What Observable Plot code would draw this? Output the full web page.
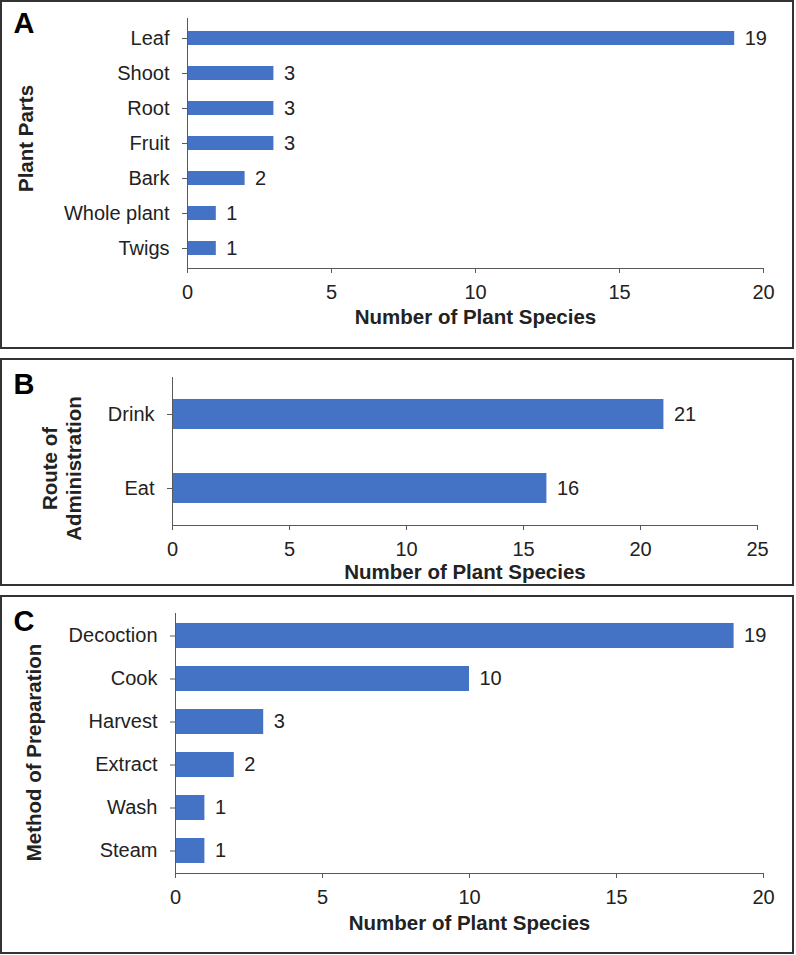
<!DOCTYPE html>
<html>
<head>
<meta charset="utf-8">
<script src="https://cdn.jsdelivr.net/npm/d3@7"></script>
<script src="https://cdn.jsdelivr.net/npm/@observablehq/plot@0.6"></script>
<style>
  html, body { margin: 0; padding: 0; background: #fff; }
  #page { position: relative; width: 796px; height: 955px; overflow: hidden; font-family: "Liberation Sans", Arial, sans-serif; }
  .panel { position: absolute; left: 0; width: 794px; box-sizing: border-box; border: 2px solid #333; z-index: 2; pointer-events: none; }
  .chart { position: absolute; left: 0; z-index: 1; }
</style>
</head>
<body>
<div id="page"></div>
<script>
// ---- data ----
const partsCats = ["Leaf", "Shoot", "Root", "Fruit", "Bark", "Whole plant", "Twigs"];
const partsVals = [19, 3, 3, 3, 2, 1, 1];
const routeCats = ["Drink", "Eat"];
const routeVals = [21, 16];
const prepCats = ["Decoction", "Cook", "Harvest", "Extract", "Wash", "Steam"];
const prepVals = [19, 10, 3, 2, 1, 1];
const ticksA = [0, 5, 10, 15, 20];
const ticksB = [0, 5, 10, 15, 20, 25];
const ticksC = [0, 5, 10, 15, 20];
const xTitle = "Number of Plant Species";

const page = document.getElementById("page");
const BLUE = "#4472C4";
const INK = "#222";
const AXIS = "#595959";
const FS = 20;
const TFS = 20.5;

function makePanel(cfg) {
  const data = cfg.cats.map((c, i) => ({cat: c, value: cfg.vals[i]}));
  const plot = Plot.plot({
    width: 796,
    height: cfg.height,
    marginLeft: cfg.ml,
    marginRight: cfg.mr,
    marginTop: cfg.mt,
    marginBottom: cfg.mb,
    style: {fontFamily: '"Liberation Sans", Arial, sans-serif', fontSize: FS + "px", color: INK, background: "transparent", overflow: "visible"},
    x: {domain: [cfg.ticks[0], cfg.ticks[cfg.ticks.length - 1]]},
    y: {domain: cfg.cats, paddingInner: cfg.pad, paddingOuter: cfg.pad / 2},
    marks: [
      Plot.barX(data, {x: "value", y: "cat", fill: BLUE}),
      Plot.text(data, {x: "value", y: "cat", text: d => String(d.value), dx: 10, textAnchor: "start", fill: INK, fontSize: FS}),
      Plot.frame({anchor: "left", stroke: AXIS}),
      Plot.frame({anchor: "bottom", stroke: AXIS}),
      Plot.axisX({ticks: cfg.ticks, tickSize: 5, tickPadding: 11, label: null, stroke: AXIS, fill: INK, fontSize: FS}),
      Plot.axisY({tickSize: 5, tickPadding: 13, label: null, stroke: AXIS, fill: INK, fontSize: FS}),
      Plot.text([xTitle], {text: d => d, frameAnchor: "bottom", dy: cfg.xtDy, fontWeight: "bold", fontSize: TFS, fill: INK, lineAnchor: "middle"}),
      Plot.text([cfg.yTitle], {text: d => d, frameAnchor: "left", rotate: -90, dx: cfg.ytX - cfg.ml, dy: cfg.ytDy, fontWeight: "bold", fontSize: TFS, fill: INK, textAnchor: "middle", lineAnchor: "middle", lineHeight: 1.15}),
      Plot.text([cfg.letter], {text: d => d, frameAnchor: "top-left", dx: 13 - cfg.ml, dy: cfg.letDy, fontWeight: "bold", fontSize: 29, fill: "#000", textAnchor: "start", lineAnchor: "middle"})
    ]
  });
  plot.classList.add("chart");
  plot.style.top = cfg.top + "px";
  page.appendChild(plot);
  const box = document.createElement("div");
  box.className = "panel";
  box.style.top = cfg.top + "px";
  box.style.height = cfg.boxH + "px";
  page.appendChild(box);
}

makePanel({cats: partsCats, vals: partsVals, ticks: ticksA, letter: "A", yTitle: "Plant Parts",
  top: 0, height: 349, boxH: 349, ml: 187, mr: 33, mt: 18, mb: 81, pad: 0.6,
  xtDy: 49, ytX: 25, ytDy: -5, letDy: 5});
makePanel({cats: routeCats, vals: routeVals, ticks: ticksB, letter: "B", yTitle: "Route of\nAdministration",
  top: 358, height: 228, boxH: 228, ml: 172, mr: 39, mt: 19, mb: 61, pad: 0.6,
  xtDy: 47, ytX: 61, ytDy: 17, letDy: 7});
makePanel({cats: prepCats, vals: prepVals, ticks: ticksC, letter: "C", yTitle: "Method of Preparation",
  top: 595, height: 359, boxH: 359, ml: 175, mr: 33, mt: 18, mb: 81, pad: 0.42,
  xtDy: 50, ytX: 33, ytDy: 9, letDy: 8});
</script>
</body>
</html>
